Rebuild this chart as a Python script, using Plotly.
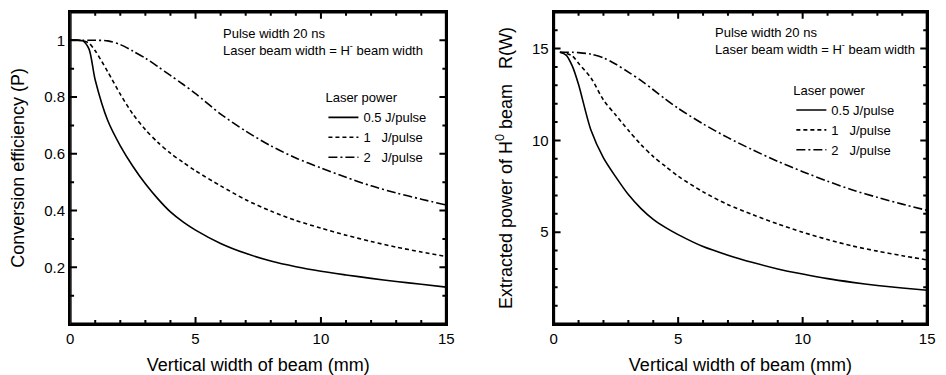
import plotly.graph_objects as go

# ---------------- data ----------------
# Left panel: conversion efficiency P vs vertical beam width (mm)
x_left = [0, 0.5, 0.75, 1, 1.5, 2, 2.5, 3, 3.5, 4, 4.5, 5, 6, 7, 8, 9, 10, 11, 12, 13, 14, 15]
p_05J = [1.0, 0.998, 0.97, 0.86, 0.717, 0.628, 0.556, 0.494, 0.441, 0.395, 0.36, 0.331,
         0.284, 0.249, 0.222, 0.202, 0.186, 0.173, 0.161, 0.15, 0.14, 0.13]
p_1J = [1.0, 0.998, 0.99, 0.963, 0.889, 0.81, 0.74, 0.685, 0.64, 0.602, 0.57, 0.54,
        0.487, 0.438, 0.398, 0.365, 0.338, 0.313, 0.291, 0.271, 0.254, 0.238]
p_2J = [1.0, 1.0, 1.0, 1.0, 0.998, 0.985, 0.962, 0.937, 0.907, 0.876, 0.845, 0.812,
        0.74, 0.68, 0.628, 0.585, 0.55, 0.517, 0.487, 0.462, 0.44, 0.419]

# Right panel: extracted power of H0 beam R (W)
x_right = [0.25, 0.5, 0.75, 1, 1.5, 2, 2.5, 3, 3.5, 4, 4.5, 5, 6, 7, 8, 9, 10, 11, 12, 13, 14, 15]
r_05J = [14.8, 14.65, 14.05, 13.05, 10.55, 9.05, 8.0, 7.05, 6.3, 5.7, 5.25, 4.87,
         4.22, 3.75, 3.35, 3.0, 2.72, 2.47, 2.27, 2.1, 1.96, 1.84]
r_1J = [14.8, 14.75, 14.6, 14.2, 13.4, 12.2, 11.37, 10.55, 9.78, 9.12, 8.58, 8.05,
        7.2, 6.5, 5.95, 5.45, 5.0, 4.6, 4.25, 3.97, 3.72, 3.49]
r_2J = [14.8, 14.8, 14.8, 14.78, 14.7, 14.5, 14.15, 13.72, 13.27, 12.76, 12.24, 11.75,
        10.9, 10.15, 9.48, 8.86, 8.3, 7.78, 7.3, 6.9, 6.53, 6.19]

series_names = ["0.5\u00a0J/pulse", "1\u00a0\u00a0\u00a0J/pulse", "2\u00a0\u00a0\u00a0J/pulse"]

# tick positions / labels
x_major = [0, 5, 10, 15]
x_minor = [1, 2, 3, 4, 6, 7, 8, 9, 11, 12, 13, 14]
yl_major = [0.2, 0.4, 0.6, 0.8, 1.0]
yl_labels = ["0.2", "0.4", "0.6", "0.8", "1"]
yl_minor = [0.1, 0.3, 0.5, 0.7, 0.9]
yr_major = [5, 10, 15]
yr_minor = [1, 2, 3, 4, 6, 7, 8, 9, 11, 12, 13, 14, 16]

# ---------------- layout constants ----------------
W, H = 946, 375
X_RANGE = [0, 15]
YL_RANGE = [0, 1.1]
YR_RANGE = [0, 17]
DOM_XL = [0.0708, 0.4736]
DOM_XR = [0.5885, 0.9884]
DOM_Y = [0.129, 0.968]
MAJOR_LEN, MINOR_LEN = 7, 4

series_dash = ["solid", "4px,3px", "9px,3px,2px,3px"]
FONT = "Liberation Sans, Arial, sans-serif"
TICKFONT = dict(family=FONT, size=15, color="black")
TITLEFONT = dict(family=FONT, size=18, color="black")

fig = go.Figure()

for name, ys, dash in zip(series_names, [p_05J, p_1J, p_2J], series_dash):
    fig.add_trace(go.Scatter(x=x_left, y=ys, mode="lines", name=name,
                             line=dict(color="black", width=1.6, dash=dash, shape="spline", smoothing=0.8),
                             xaxis="x", yaxis="y", legend="legend"))
for name, ys, dash in zip(series_names, [r_05J, r_1J, r_2J], series_dash):
    fig.add_trace(go.Scatter(x=x_right, y=ys, mode="lines", name=name,
                             line=dict(color="black", width=1.6, dash=dash, shape="spline", smoothing=0.8),
                             xaxis="x2", yaxis="y2", legend="legend2"))


def add_ticks_and_frame(xaxis, yaxis, xr, yr, dom_x, dom_y, xmaj, xmin, ymaj, ymin):
    """Inside tick marks on all four sides, built from the tick value lists."""
    dx = (xr[1] - xr[0]) / ((dom_x[1] - dom_x[0]) * W)   # data units per pixel
    dy = (yr[1] - yr[0]) / ((dom_y[1] - dom_y[0]) * H)
    xs, ys = [], []
    for vals, length in ((xmaj, MAJOR_LEN), (xmin, MINOR_LEN)):
        for v in vals:
            if v <= xr[0] or v >= xr[1]:
                continue
            xs += [v, v, None, v, v, None]
            ys += [yr[0], yr[0] + length * dy, None, yr[1], yr[1] - length * dy, None]
    for vals, length in ((ymaj, MAJOR_LEN), (ymin, MINOR_LEN)):
        for v in vals:
            if v <= yr[0] or v >= yr[1]:
                continue
            xs += [xr[0], xr[0] + length * dx, None, xr[1], xr[1] - length * dx, None]
            ys += [v, v, None, v, v, None]
    fig.add_trace(go.Scatter(x=xs, y=ys, mode="lines", line=dict(color="black", width=2),
                             connectgaps=False,
                             xaxis=xaxis, yaxis=yaxis, showlegend=False, hoverinfo="skip"))
    # frame (reinforces the axis lines)
    fig.add_trace(go.Scatter(x=[xr[0], xr[1], xr[1], xr[0], xr[0]],
                             y=[yr[0], yr[0], yr[1], yr[1], yr[0]],
                             mode="lines", line=dict(color="black", width=3),
                             xaxis=xaxis, yaxis=yaxis, showlegend=False, hoverinfo="skip"))


add_ticks_and_frame("x", "y", X_RANGE, YL_RANGE, DOM_XL, DOM_Y, x_major, x_minor, yl_major, yl_minor)
add_ticks_and_frame("x2", "y2", X_RANGE, YR_RANGE, DOM_XR, DOM_Y, x_major, x_minor, yr_major, yr_minor)

axis_common = dict(showgrid=False, zeroline=False, showline=True, linecolor="black", linewidth=2,
                   mirror=True, ticks="", tickfont=TICKFONT)

fig.update_layout(
    width=W, height=H,
    margin=dict(l=0, r=0, t=0, b=0),
    paper_bgcolor="white", plot_bgcolor="white",
    font=dict(family=FONT, color="black"),
    xaxis=dict(axis_common, domain=DOM_XL, anchor="y", range=X_RANGE, tickvals=x_major,
               title=dict(text="Vertical width of beam (mm)", font=TITLEFONT)),
    yaxis=dict(axis_common, domain=DOM_Y, anchor="x", range=YL_RANGE,
               tickvals=yl_major, ticktext=yl_labels,
               title=dict(text="Conversion efficiency (P)", font=TITLEFONT)),
    xaxis2=dict(axis_common, domain=DOM_XR, anchor="y2", range=X_RANGE, tickvals=x_major,
                title=dict(text="Vertical width of beam (mm)", font=TITLEFONT)),
    yaxis2=dict(axis_common, domain=DOM_Y, anchor="x2", range=YR_RANGE, tickvals=yr_major,
                title=dict(text="Extracted power of H<sup>0</sup> beam\u00a0\u00a0\u00a0R(W)",
                           font=TITLEFONT)),
    legend=dict(title=dict(text="Laser power", font=dict(family=FONT, size=13)),
                font=dict(family=FONT, size=13, color="black"),
                x=0.342, y=0.77, xanchor="left", yanchor="top",
                bgcolor="rgba(0,0,0,0)", tracegroupgap=0, itemwidth=30),
    legend2=dict(title=dict(text="Laser power", font=dict(family=FONT, size=13)),
                 font=dict(family=FONT, size=13, color="black"),
                 x=0.843, y=0.79, xanchor="left", yanchor="top",
                 bgcolor="rgba(0,0,0,0)", tracegroupgap=0, itemwidth=30),
    showlegend=True,
)

note = "Pulse width 20 ns<br>Laser beam width = H<sup>-</sup> beam width"
fig.add_annotation(x=6.02, y=0.995, xref="x", yref="y", xanchor="left", yanchor="middle",
                   align="left", showarrow=False, text=note,
                   font=dict(family=FONT, size=13, color="black"))
fig.add_annotation(x=6.4, y=15.42, xref="x2", yref="y2", xanchor="left", yanchor="middle",
                   align="left", showarrow=False, text=note,
                   font=dict(family=FONT, size=13, color="black"))

fig.write_html("out.html")
